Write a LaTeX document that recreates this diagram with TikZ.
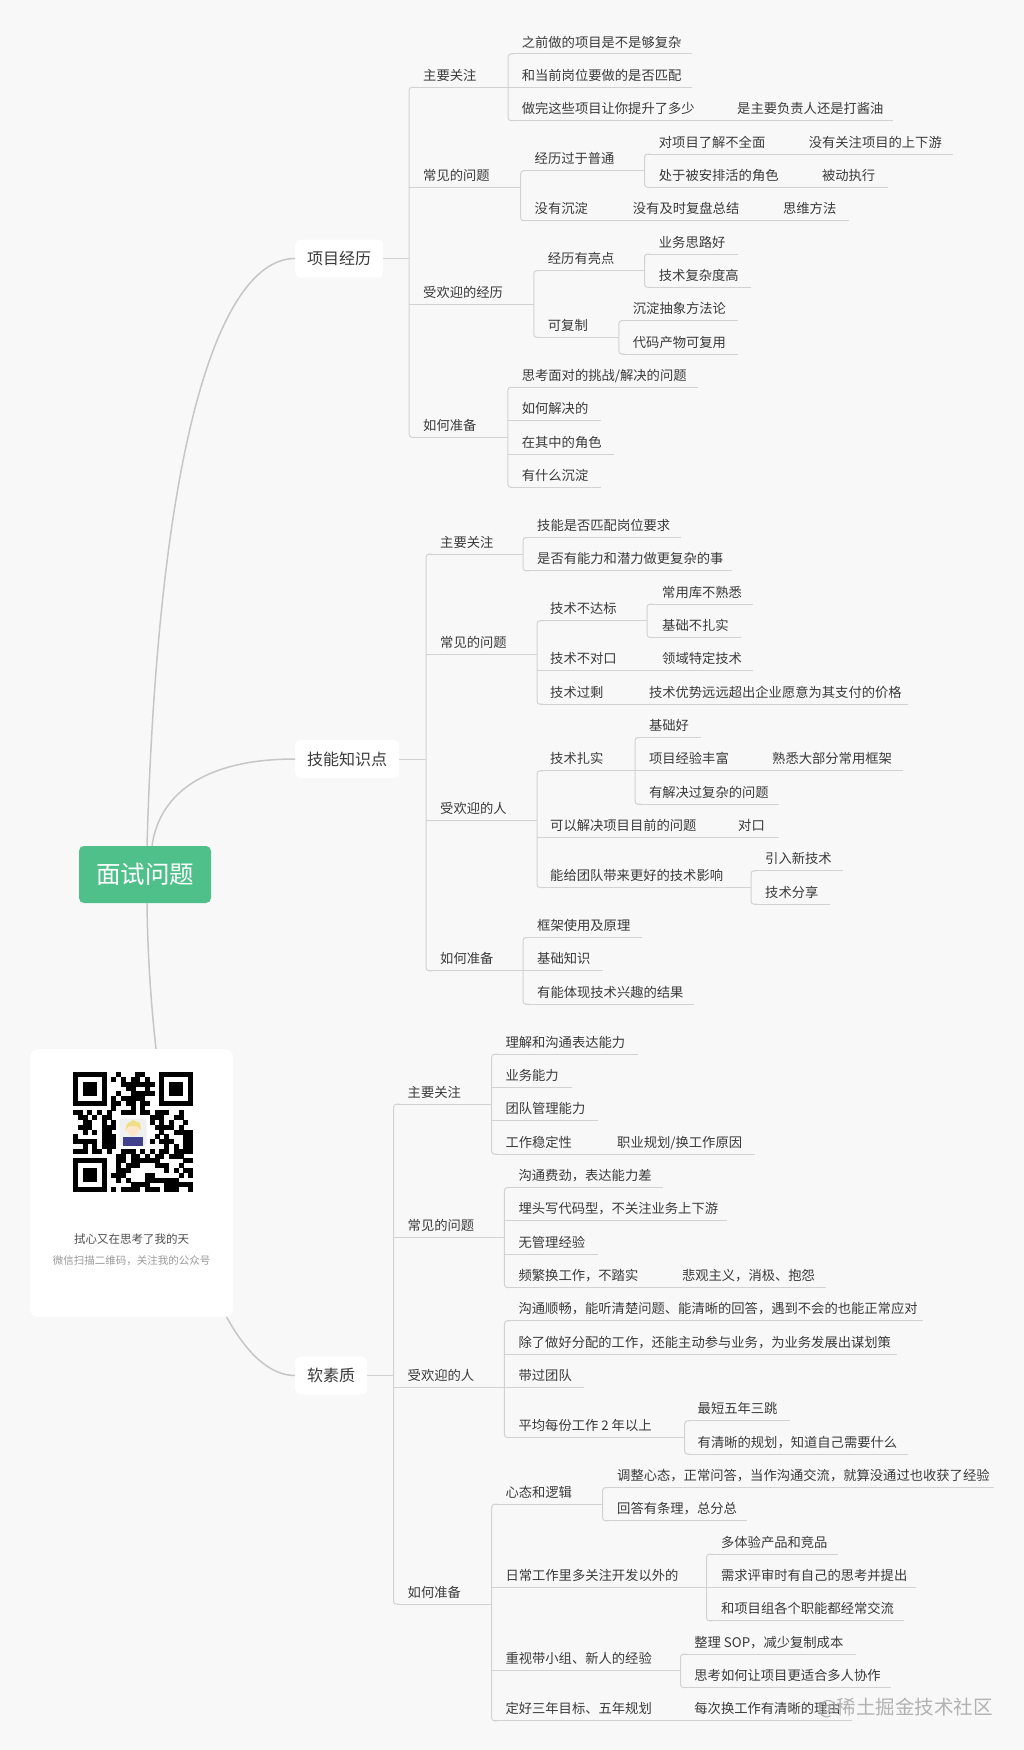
\documentclass[tikz,border=0pt]{standalone}
\usepackage{fontspec}
\setmainfont{Noto Sans CJK SC}
\definecolor{bgc}{HTML}{F8F8F8}
\definecolor{textc}{HTML}{3A3A3A}
\definecolor{linec}{HTML}{D2D2D2}
\definecolor{curvec}{HTML}{C6C6C6}
\definecolor{rootc}{HTML}{4FC08A}
\definecolor{wmc}{HTML}{B2B2B2}
\tikzset{
  ul/.style={draw=linec, line width=1pt},
  mainc/.style={draw=curvec, line width=1.5pt},
  txt/.style={font=\fontsize{13.3}{16}\selectfont, text=textc, inner sep=0pt, anchor=west, text height=11.7pt, text depth=1.6pt},
  l1/.style={fill=white, rounded corners=5pt, inner xsep=12pt, inner ysep=0pt, minimum height=38pt, anchor=west, font=\fontsize{16}{19}\selectfont, text=textc, text height=14.1pt, text depth=1.9pt},
  rootn/.style={fill=rootc, rounded corners=5pt, inner xsep=17pt, inner ysep=0pt, minimum height=57pt, font=\fontsize{24.5}{28}\selectfont, text=white, text height=21.6pt, text depth=2.9pt},
}
% #1 opt style, #2 name, #3 underline start x, #4 text x, #5 underline y, #6 underline end x, #7 text
\newcommand\mmn[7][]{%
  \node[txt] (#2) at (#4,#5-12) {#7};
  \coordinate (#2-a) at (#3,#5);
  \coordinate (#2-b) at (#6,#5);
  \draw[ul,#1] (#2-a) -- (#2-b);
}
\newcommand\mbrk[2]{%
  \draw[ul, rounded corners=3pt] ([xshift=6pt]#1-a) -- (#1-a) -- (#2-a) -- ([xshift=6pt]#2-a);
}
\begin{document}
\begin{tikzpicture}[x=1pt,y=-1pt]
\useasboundingbox (0,0) rectangle (1024,1750);
\fill[bgc] (0,0) rectangle (1024,1750);

% ---------- level 1 and root ----------
\node[rootn] (root) at (145,874.5) {面试问题\hspace{8pt}};
\node[l1] (p) at (295,258.5) {项目经历\hspace{10pt}};
\node[l1] (k) at (295,759) {技能知识点\hspace{10pt}};
\node[l1] (s) at (295,1375.5) {软素质\hspace{10pt}};

\draw[mainc] ([xshift=2pt]root.north) .. controls (160,400) and (230,258.5) .. (p.west);
\draw[mainc] ([xshift=7pt]root.north) .. controls (160,790) and (210,759) .. (k.west);
\draw[mainc] ([xshift=2pt]root.south) .. controls (150,1150) and (215,1375.5) .. (s.west);

% ---------- 项目经历 ----------
\mmn[shorten <=3pt]{p1}{409}{423}{87.3}{508}{主要关注}
\mmn[shorten <=3pt]{p11}{508}{521.6}{54}{692}{之前做的项目是不是够复杂}
\mmn{p12}{508}{521.6}{87.3}{692}{和当前岗位要做的是否匹配}
\mmn[shorten <=3pt]{p13}{508}{521.6}{120.7}{724}{做完这些项目让你提升了多少}
\mmn{p131}{724}{737}{120.7}{893}{是主要负责人还是打酱油}
\mmn{p2}{409}{423}{187.3}{520.6}{常见的问题}
\mmn[shorten <=3pt]{p21}{520.6}{534.5}{170.7}{644.5}{经历过于普通}
\mmn[shorten <=3pt]{p211}{644.5}{658.7}{154}{796}{对项目了解不全面}
\mmn{p2111}{796}{808.6}{154}{952.6}{没有关注项目的上下游}
\mmn[shorten <=3pt]{p212}{644.5}{658.7}{187.3}{809}{处于被安排活的角色}
\mmn{p2121}{809}{821.8}{187.3}{887.7}{被动执行}
\mmn[shorten <=3pt]{p22}{520.6}{534.5}{220.7}{620}{没有沉淀}
\mmn{p221}{620}{632.7}{220.7}{770}{没有及时复盘总结}
\mmn{p2211}{770}{782.9}{220.7}{848.5}{思维方法}
\mmn{p3}{409}{423}{304.2}{533.8}{受欢迎的经历}
\mmn[shorten <=3pt]{p31}{533.8}{547.7}{270.7}{644.5}{经历有亮点}
\mmn[shorten <=3pt]{p311}{644.5}{658.7}{254}{737.5}{业务思路好}
\mmn[shorten <=3pt]{p312}{644.5}{658.7}{287.3}{750.6}{技术复杂度高}
\mmn[shorten <=3pt]{p32}{533.8}{547.7}{337.3}{618.8}{可复制}
\mmn[shorten <=3pt]{p321}{618.8}{632.7}{320.7}{737.5}{沉淀抽象方法论}
\mmn[shorten <=3pt]{p322}{618.8}{632.7}{354}{737.5}{代码产物可复用}
\mmn[shorten <=3pt]{p4}{409}{423}{437.3}{507.8}{如何准备}
\mmn[shorten <=3pt]{p41}{507.8}{521.6}{387.3}{697.9}{思考面对的挑战/解决的问题}
\mmn{p42}{507.8}{521.6}{420.7}{600.7}{如何解决的}
\mmn{p43}{507.8}{521.6}{454}{613.6}{在其中的角色}
\mmn[shorten <=3pt]{p44}{507.8}{521.6}{487.3}{600.7}{有什么沉淀}
\draw[ul] (p.east) -- (p.east -| p1-a);
\mbrk{p1}{p4}\mbrk{p11}{p13}\mbrk{p21}{p22}\mbrk{p211}{p212}
\mbrk{p31}{p32}\mbrk{p311}{p312}\mbrk{p321}{p322}\mbrk{p41}{p44}

% ---------- 技能知识点 ----------
\mmn[shorten <=3pt]{k1}{426}{440}{554.2}{523}{主要关注}
\mmn[shorten <=3pt]{k11}{523}{537}{537.5}{681}{技能是否匹配岗位要求}
\mmn[shorten <=3pt]{k12}{523}{537}{570.8}{732}{是否有能力和潜力做更复杂的事}
\mmn{k2}{426}{440}{654.2}{537}{常见的问题}
\mmn[shorten <=3pt]{k21}{537}{550}{620.8}{647}{技术不达标}
\mmn[shorten <=3pt]{k211}{647}{662}{604.2}{753}{常用库不熟悉}
\mmn[shorten <=3pt]{k212}{647}{662}{637.5}{741}{基础不扎实}
\mmn{k22}{537}{550}{670.8}{650}{技术不对口}
\mmn{k221}{650}{662}{670.8}{753}{领域特定技术}
\mmn[shorten <=3pt]{k23}{537}{550}{704.2}{636}{技术过剩}
\mmn{k231}{636}{648.8}{704.2}{908}{技术优势远远超出企业愿意为其支付的价格}
\mmn{k3}{426}{440}{820.8}{537}{受欢迎的人}
\mmn[shorten <=3pt]{k31}{537}{550}{770.8}{635}{技术扎实}
\mmn[shorten <=3pt]{k311}{635}{648.8}{737.5}{701}{基础好}
\mmn{k312}{635}{648.8}{770.8}{760}{项目经验丰富}
\mmn{k3121}{760}{772}{770.8}{903}{熟悉大部分常用框架}
\mmn[shorten <=3pt]{k313}{635}{648.8}{804.2}{779}{有解决过复杂的问题}
\mmn{k32}{537}{550}{837.5}{725}{可以解决项目目前的问题}
\mmn{k321}{725}{738}{837.5}{779}{对口}
\mmn[shorten <=3pt]{k33}{537}{550}{887.5}{751}{能给团队带来更好的技术影响}
\mmn[shorten <=3pt]{k331}{751}{765}{870.8}{843}{引入新技术}
\mmn[shorten <=3pt]{k332}{751}{765}{904.2}{830}{技术分享}
\mmn[shorten <=3pt]{k4}{426}{440}{970.8}{523}{如何准备}
\mmn[shorten <=3pt]{k41}{523}{537}{937.5}{642}{框架使用及原理}
\mmn{k42}{523}{537}{970.8}{603}{基础知识}
\mmn[shorten <=3pt]{k43}{523}{537}{1004.2}{694}{有能体现技术兴趣的结果}
\draw[ul] (k.east) -- (k.east -| k1-a);
\mbrk{k1}{k4}\mbrk{k11}{k12}\mbrk{k21}{k23}\mbrk{k211}{k212}
\mbrk{k31}{k33}\mbrk{k311}{k313}\mbrk{k331}{k332}\mbrk{k41}{k43}

% ---------- 软素质 ----------
\mmn[shorten <=3pt]{s1}{393.5}{407.5}{1104.2}{491.7}{主要关注}
\mmn[shorten <=3pt]{s11}{491.7}{505.3}{1054.2}{637.5}{理解和沟通表达能力}
\mmn{s12}{491.7}{505.3}{1087.5}{571.8}{业务能力}
\mmn{s13}{491.7}{505.3}{1120.8}{597.7}{团队管理能力}
\mmn[shorten <=3pt]{s14}{491.7}{505.3}{1154.2}{604}{工作稳定性}
\mmn{s141}{604}{617}{1154.2}{754.5}{职业规划/换工作原因}
\mmn{s2}{393.5}{407.5}{1237.5}{504.4}{常见的问题}
\mmn[shorten <=3pt]{s21}{504.4}{518.4}{1187.5}{663.4}{沟通费劲，表达能力差}
\mmn{s22}{504.4}{518.4}{1220.8}{727}{埋头写代码型，不关注业务上下游}
\mmn{s23}{504.4}{518.4}{1254.2}{597.7}{无管理经验}
\mmn[shorten <=3pt]{s24}{504.4}{518.4}{1287.5}{669}{频繁换工作，不踏实}
\mmn{s241}{669}{681.8}{1287.5}{825.6}{悲观主义，消极、抱怨}
\mmn{s3}{393.5}{407.5}{1387.5}{504.4}{受欢迎的人}
\mmn[shorten <=3pt]{s31}{504.4}{518.4}{1320.8}{922.9}{沟通顺畅，能听清楚问题、能清晰的回答，遇到不会的也能正常应对}
\mmn{s32}{504.4}{518.4}{1354.2}{896.6}{除了做好分配的工作，还能主动参与业务，为业务发展出谋划策}
\mmn{s33}{504.4}{518.4}{1387.5}{584.1}{带过团队}
\mmn[shorten <=3pt]{s34}{504.4}{518.4}{1437.5}{684.7}{平均每份工作 2 年以上}
\mmn[shorten <=3pt]{s341}{684.7}{697.5}{1420.8}{789.9}{最短五年三跳}
\mmn[shorten <=3pt]{s342}{684.7}{697.5}{1454.2}{907.7}{有清晰的规划，知道自己需要什么}
\mmn[shorten <=3pt]{s4}{393.5}{407.5}{1604.2}{491.7}{如何准备}
\mmn[shorten <=3pt]{s41}{491.7}{505.3}{1504.2}{602.6}{心态和逻辑}
\mmn[shorten <=3pt]{s411}{602.6}{617}{1487.5}{994}{调整心态，正常问答，当作沟通交流，就算没通过也收获了经验}
\mmn[shorten <=3pt]{s412}{602.6}{617}{1520.8}{746.7}{回答有条理，总分总}
\mmn{s42}{491.7}{505.3}{1587.5}{706.5}{日常工作里多关注开发以外的}
\mmn[shorten <=3pt]{s421}{706.5}{720.9}{1554.2}{837.9}{多体验产品和竞品}
\mmn{s422}{706.5}{720.9}{1587.5}{915.9}{需求评审时有自己的思考并提出}
\mmn[shorten <=3pt]{s423}{706.5}{720.9}{1620.8}{903.6}{和项目组各个职能都经常交流}
\mmn{s43}{491.7}{505.3}{1670.8}{680.6}{重视带小组、新人的经验}
\mmn[shorten <=3pt]{s431}{680.6}{694.2}{1654.2}{856.4}{整理 SOP，减少复制成本}
\mmn[shorten <=3pt]{s432}{680.6}{694.2}{1687.5}{890.5}{思考如何让项目更适合多人协作}
\mmn[shorten <=3pt]{s44}{491.7}{505.3}{1720.8}{681}{定好三年目标、五年规划}
\mmn{s441}{681}{694.2}{1720.8}{852.3}{每次换工作有清晰的理由}
\draw[ul] (s.east) -- (s.east -| s1-a);
\mbrk{s1}{s4}\mbrk{s11}{s14}\mbrk{s21}{s24}\mbrk{s31}{s34}\mbrk{s341}{s342}
\mbrk{s41}{s44}\mbrk{s411}{s412}\mbrk{s421}{s423}\mbrk{s431}{s432}

% ---------- QR card ----------
\node[fill=white, rounded corners=8pt, minimum width=203pt, minimum height=268pt, inner sep=0pt] (card) at (131.5,1183) {};
\pgfmathsetseed{4711}
\foreach \i in {0,...,24}{\foreach \j in {0,...,24}{%
  \pgfmathtruncatemacro\qskp{or(or(and(\i<8,\j<8),and(\i>16,\j<8)),or(and(\i<8,\j>16),and(and(\i>8,\i<16),and(\j>8,\j<16))))}%
  \pgfmathtruncatemacro\qbit{rnd<0.58}%
  \ifnum\qskp=0 \ifnum\qbit=1 \fill[black] ({73+4.8*\i},{1072+4.8*\j}) rectangle ++(4.9,4.9);\fi\fi
}}
\foreach \fx/\fy in {73/1072,159.4/1072,73/1158.4}{%
  \fill[black] (\fx,\fy) rectangle ++(33.6,33.6);
  \fill[white] (\fx+4.8,\fy+4.8) rectangle ++(24,24);
  \fill[black] (\fx+9.6,\fy+9.6) rectangle ++(14.4,14.4);
}
\node[fill=white, rounded corners=3pt, minimum size=32pt, inner sep=0pt] (avbg) at (133,1132) {};
\node[fill=gray!12, rounded corners=2pt, minimum size=27pt, inner sep=0pt] (av) at (133,1132) {};
\fill[blue!40!black!75] (123,1146) rectangle (143,1137);
\fill[orange!20] (133,1130) circle (6pt);
\fill[yellow!55!brown!55] (127,1124) -- (133,1120) -- (140,1123) -- (141,1130) -- (137,1126) -- (129,1126) -- (125,1131) -- cycle;
\node[font=\fontsize{11.5}{13}\selectfont, text=textc!90, inner sep=0pt] (qt1) at (131.5,1239) {拭心又在思考了我的天};
\node[font=\fontsize{10.5}{13}\selectfont, text=gray!80, inner sep=0pt] (qt2) at (131.5,1261) {微信扫描二维码，关注我的公众号};

% ---------- watermark ----------
\node[font=\fontsize{19.5}{24}\selectfont, text=wmc, inner sep=0pt, anchor=east] (wm) at (993,1708) {@稀土掘金技术社区};
\end{tikzpicture}
\end{document}
